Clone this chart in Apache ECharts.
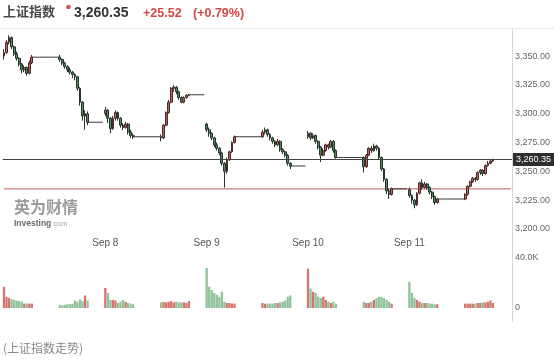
<!DOCTYPE html>
<html><head><meta charset="utf-8">
<script src="https://cdn.jsdelivr.net/npm/echarts@6/dist/echarts.min.js"></script>
<style>html,body{margin:0;padding:0;background:#fff}#c{width:554px;height:361px}</style>
</head><body><div id="c"></div>
<script>
// ---- data (price candles as [open, close, low, high], volume in K) ----
const dayLabels = ['Sep 7', 'Sep 8', 'Sep 9', 'Sep 10', 'Sep 11'];
const lastPrice = 3260.35;
const prevClose = 3234.83;
const change = '+25.52';
const changePct = '(+0.79%)';
const priceTicks = [3200, 3225, 3250, 3275, 3300, 3325, 3350];
const volTicks = [0, 40];

const sep07AM = [[3350,3353,3347,3356],[3353,3362,3352,3364],[3362,3366,3360,3368],[3366,3358,3356,3367],[3358,3352,3350,3359],[3352,3348,3346,3354],[3348,3343,3341,3349],[3343,3338,3335,3344],[3338,3340,3336,3342],[3340,3335,3333,3341],[3335,3344,3334,3346],[3344,3349,3343,3351]];
const sep07PM = [[3349,3347,3345,3351],[3347,3344,3342,3348],[3344,3341,3339,3345],[3341,3338,3336,3342],[3338,3336,3334,3340],[3336,3334,3331,3337],[3334,3332,3329,3335],[3332,3322,3320,3333],[3322,3310,3307,3323],[3310,3298,3294,3311],[3298,3300,3286,3303],[3300,3292.59,3290,3302]];
const sep08AM = [[3300,3303,3298,3306],[3303,3296,3292,3304],[3296,3287,3283,3297],[3287,3296,3286,3298],[3296,3301,3294,3303],[3301,3296,3294,3302],[3296,3290,3288,3297],[3290,3288,3286,3292],[3288,3291,3287,3293],[3291,3284,3282,3292],[3284,3281,3279,3286],[3281,3280,3278,3283]];
const sep08PM = [[3280,3279,3276,3282],[3279,3290,3278,3291],[3290,3301,3289,3302],[3301,3310,3300,3312],[3310,3322,3309,3323],[3322,3323,3319,3325],[3323,3319,3317,3324],[3319,3314,3312,3320],[3314,3310,3309,3315],[3310,3314,3309,3315],[3314,3316,3313,3317],[3316,3316.42,3315,3317]];
const sep09AM = [[3291,3286,3284,3292],[3286,3283,3280,3288],[3283,3279,3277,3284],[3279,3273,3271,3280],[3273,3270,3268,3275],[3270,3266,3264,3271],[3266,3257,3255,3267],[3257,3250,3236,3258],[3250,3260,3248,3262],[3260,3267,3259,3268],[3267,3275,3266,3276],[3275,3280,3274,3281]];
const sep09PM = [[3280,3284,3279,3286],[3284,3286,3282,3288],[3286,3282,3280,3287],[3282,3279,3277,3283],[3279,3276,3274,3280],[3276,3273,3271,3277],[3273,3276,3272,3278],[3276,3269,3267,3277],[3269,3267,3265,3270],[3267,3264,3262,3268],[3264,3257,3255,3265],[3257,3254.63,3252,3258]];
const sep10AM = [[3280,3283,3278,3285],[3283,3279,3277,3284],[3279,3281,3278,3283],[3281,3276,3274,3282],[3276,3271,3269,3277],[3271,3264,3258,3272],[3264,3268,3263,3270],[3268,3273,3267,3274],[3273,3271,3269,3274],[3271,3276,3270,3277],[3276,3268,3266,3277],[3268,3262,3261,3269]];
const sep10PM = [[3262,3254,3249,3263],[3254,3264,3253,3265],[3264,3270,3263,3271],[3270,3268,3266,3272],[3268,3272,3267,3274],[3272,3270,3268,3273],[3270,3262,3260,3271],[3262,3252,3250,3263],[3252,3243,3241,3253],[3243,3233,3230,3244],[3233,3230,3226,3235],[3230,3234.83,3229,3236]];
const sep11AM = [[3234,3229,3227,3236],[3229,3225,3222,3230],[3225,3221,3218,3226],[3221,3231,3220,3232],[3231,3240,3230,3241],[3240,3236,3234,3243],[3236,3239,3235,3241],[3239,3236,3234,3240],[3236,3232,3230,3237],[3232,3228,3226,3233],[3228,3223,3221,3229],[3223,3226,3222,3227]];
const sep11PM = [[3226,3230,3225,3231],[3230,3237,3229,3238],[3237,3241,3236,3242],[3241,3244,3240,3245],[3244,3243,3241,3245],[3243,3249,3242,3250],[3249,3251,3247,3252],[3251,3248,3246,3252],[3248,3255,3247,3256],[3255,3257,3254,3259],[3257,3259,3256,3260],[3259,3260.35,3258,3261]];

const sep07AMVol = [17, 9, 8, 7, 6.5, 6, 5.5, 5, 3.5, 3.5, 3.5, 3.5];
const sep07PMVol = [2.5, 2, 2.5, 3, 3, 3.5, 6, 5, 7, 5.5, 10, 6];
const sep08AMVol = [16, 12, 6.5, 6.5, 6, 4, 5, 6.5, 5, 4, 3.5, 3];
const sep08PMVol = [4.5, 5, 4.5, 5, 5.5, 4.5, 5, 4.5, 4.5, 4.5, 4, 5.5];
const sep09AMVol = [32, 17, 14.5, 12, 10.5, 9, 13, 5, 4, 4, 3.5, 3.5];
const sep09PMVol = [4, 3.5, 3.5, 3.5, 3.5, 4, 4, 4.5, 5, 6, 9, 10];
const sep10AMVol = [31.5, 15.5, 13, 12, 9, 8, 9, 6.5, 5, 4, 5, 3.5];
const sep10PMVol = [5, 4, 4, 5, 6.5, 8, 9, 9, 8, 6.5, 5, 3.5];
const sep11AMVol = [21, 12, 8, 6.5, 5, 4, 4, 4, 3.5, 3.5, 3, 3];
const sep11PMVol = [3.5, 3.5, 3.5, 3.5, 3.5, 4, 4, 4.5, 4.5, 5, 6, 4];

const amSessions = [sep07AM, sep08AM, sep09AM, sep10AM, sep11AM];
const pmSessions = [sep07PM, sep08PM, sep09PM, sep10PM, sep11PM];
const amVols = [sep07AMVol, sep08AMVol, sep09AMVol, sep10AMVol, sep11AMVol];
const pmVols = [sep07PMVol, sep08PMVol, sep09PMVol, sep10PMVol, sep11PMVol];

// ---- slot layout (10-minute slots) ----
const AM_SLOTS = 12, LUNCH_SLOTS = 10, PM_SLOTS = 12, POST_SLOTS = 6;
const DAY_SLOTS = AM_SLOTS + LUNCH_SLOTS + PM_SLOTS + POST_SLOTS;
const TOTAL_SLOTS = 201;

const UP = '#c95b55', DOWN = '#4f8d5f';
const VUP = '#d4756e', VDOWN = '#92c29c';

const cats = [], candle = [], vol = [], flat = [], prevLine = [];
for (let i = 0; i < TOTAL_SLOTS; i++) { cats.push(''); candle.push(['-','-','-','-']); vol.push('-'); flat.push('-'); prevLine.push(prevClose); }

function putSession(start, sess, vols) {
  sess.forEach((c, k) => {
    candle[start + k] = c;
    vol[start + k] = { value: vols[k], itemStyle: { color: c[1] >= c[0] ? VUP : VDOWN } };
  });
}
for (let d = 0; d < dayLabels.length; d++) {
  const base = d * DAY_SLOTS;
  if (d > 0) cats[base] = dayLabels[d];
  const am = amSessions[d], pm = pmSessions[d];
  putSession(base, am, amVols[d]);
  const pmStart = base + AM_SLOTS + LUNCH_SLOTS;
  putSession(pmStart, pm, pmVols[d]);
  const lunchLevel = am[am.length - 1][1];
  for (let s = base + AM_SLOTS - 1; s <= pmStart; s++) flat[s] = lunchLevel;
  if (d < dayLabels.length - 1) {
    const closeLevel = pm[pm.length - 1][1];
    for (let s = pmStart + PM_SLOTS - 1; s < base + DAY_SLOTS; s++) flat[s] = closeLevel;
  }
}

const fmtPrice = v => v.toLocaleString('en-US', { minimumFractionDigits: 2, maximumFractionDigits: 2 });
const chart = echarts.init(document.getElementById('c'), null, { renderer: 'canvas' });
const GL = 2.7, GR = 42;
const option = {
  animation: false,
  textStyle: { fontFamily: 'Liberation Sans, Arial, sans-serif' },
  grid: [
    { left: GL, right: GR, top: 27.2, height: 201.8 },
    { left: GL, right: GR, top: 258, height: 50 }
  ],
  xAxis: [
    { type: 'category', gridIndex: 0, data: cats, boundaryGap: true,
      axisLine: { show: false }, axisTick: { show: false }, splitLine: { show: false },
      axisLabel: { interval: 0, color: '#555', fontSize: 10, margin: 9 } },
    { type: 'category', gridIndex: 1, data: cats, boundaryGap: true,
      axisLine: { show: false }, axisTick: { show: false }, axisLabel: { show: false }, splitLine: { show: false } }
  ],
  yAxis: [
    { type: 'value', gridIndex: 0, position: 'right', min: 3200, max: 3375, interval: 25,
      axisLine: { show: false }, axisTick: { show: false }, splitLine: { show: false },
      axisLabel: { color: '#666', fontSize: 9, margin: 3,
        formatter: v => priceTicks.includes(v) ? fmtPrice(v) : '' } },
    { type: 'value', gridIndex: 1, position: 'right', min: 0, max: 40, interval: 40,
      axisLine: { show: false }, axisTick: { show: false }, splitLine: { show: false },
      axisLabel: { color: '#666', fontSize: 9, margin: 3,
        formatter: v => v === 0 ? '0' : (volTicks.includes(v) ? v.toFixed(1) + 'K' : '') } }
  ],
  series: [
    { type: 'line', xAxisIndex: 0, yAxisIndex: 0, data: prevLine, symbol: 'none', silent: true,
      color: '#d27a7a', lineStyle: { color: '#d27a7a', width: 1.2 }, z: 1 },
    { type: 'line', xAxisIndex: 0, yAxisIndex: 0, data: flat, symbol: 'none',
      lineStyle: { color: '#333', width: 1 }, connectNulls: false, z: 2 },
    { type: 'candlestick', xAxisIndex: 0, yAxisIndex: 0, data: candle, barWidth: 2.3,
      itemStyle: { color: UP, color0: DOWN, borderColor: '#4a2c2a', borderColor0: '#23352a', borderWidth: 1 },
      z: 3,
      markLine: {
        silent: true, symbol: ['none', 'none'], animation: false, precision: 2,
        lineStyle: { color: '#444', width: 1, type: 'solid' },
        label: { show: true, position: 'end', distance: 1, formatter: () => fmtPrice(lastPrice),
          color: '#fff', backgroundColor: '#2e2e2e', fontSize: 9, padding: [2, 3, 2, 3] },
        data: [{ yAxis: lastPrice }]
      }
    },
    { type: 'bar', xAxisIndex: 1, yAxisIndex: 1, data: vol, barWidth: 2.3 }
  ],
  graphic: [
    { type: 'line', shape: { x1: 0, y1: 28.5, x2: 554, y2: 28.5 }, style: { stroke: '#e8e8e8', lineWidth: 1 } },
    { type: 'line', shape: { x1: 512.5, y1: 29, x2: 512.5, y2: 322 }, style: { stroke: '#d8d8d8', lineWidth: 1 } },
    { type: 'text', left: 3, top: 5, style: { text: '上证指数', font: 'bold 13px "Noto Sans CJK SC"', fill: '#4a4a4a' } },
    { type: 'circle', shape: { cx: 68.5, cy: 7, r: 2.3 }, style: { fill: '#d4505e' } },
    { type: 'text', left: 74, top: 6, style: { text: fmtPrice(lastPrice), font: 'bold 14px "Liberation Sans", Arial', fill: '#333' } },
    { type: 'text', left: 143, top: 7, style: { text: change, font: 'bold 12.5px "Liberation Sans", Arial', fill: '#d04848' } },
    { type: 'text', left: 193, top: 7, style: { text: changePct, font: 'bold 12.5px "Liberation Sans", Arial', fill: '#d04848' } },
    { type: 'text', left: 14, top: 199, style: { text: '英为财情', font: 'bold 16px "Noto Sans CJK SC"', fill: '#8a8a8a', opacity: 0.85 } },
    { type: 'text', left: 14, top: 219, style: { text: '{a|Investing}{b|.com}',
        rich: { a: { font: 'bold 8.5px "Liberation Sans", Arial', fill: '#6a6a6a' }, b: { font: '7.5px "Liberation Sans", Arial', fill: '#aaa' } } } },
    { type: 'text', left: 3, top: 342, style: { text: '(上证指数走势)', font: '12px "Noto Sans CJK SC"', fill: '#888' } }
  ]
};
chart.setOption(option);
</script></body></html>
